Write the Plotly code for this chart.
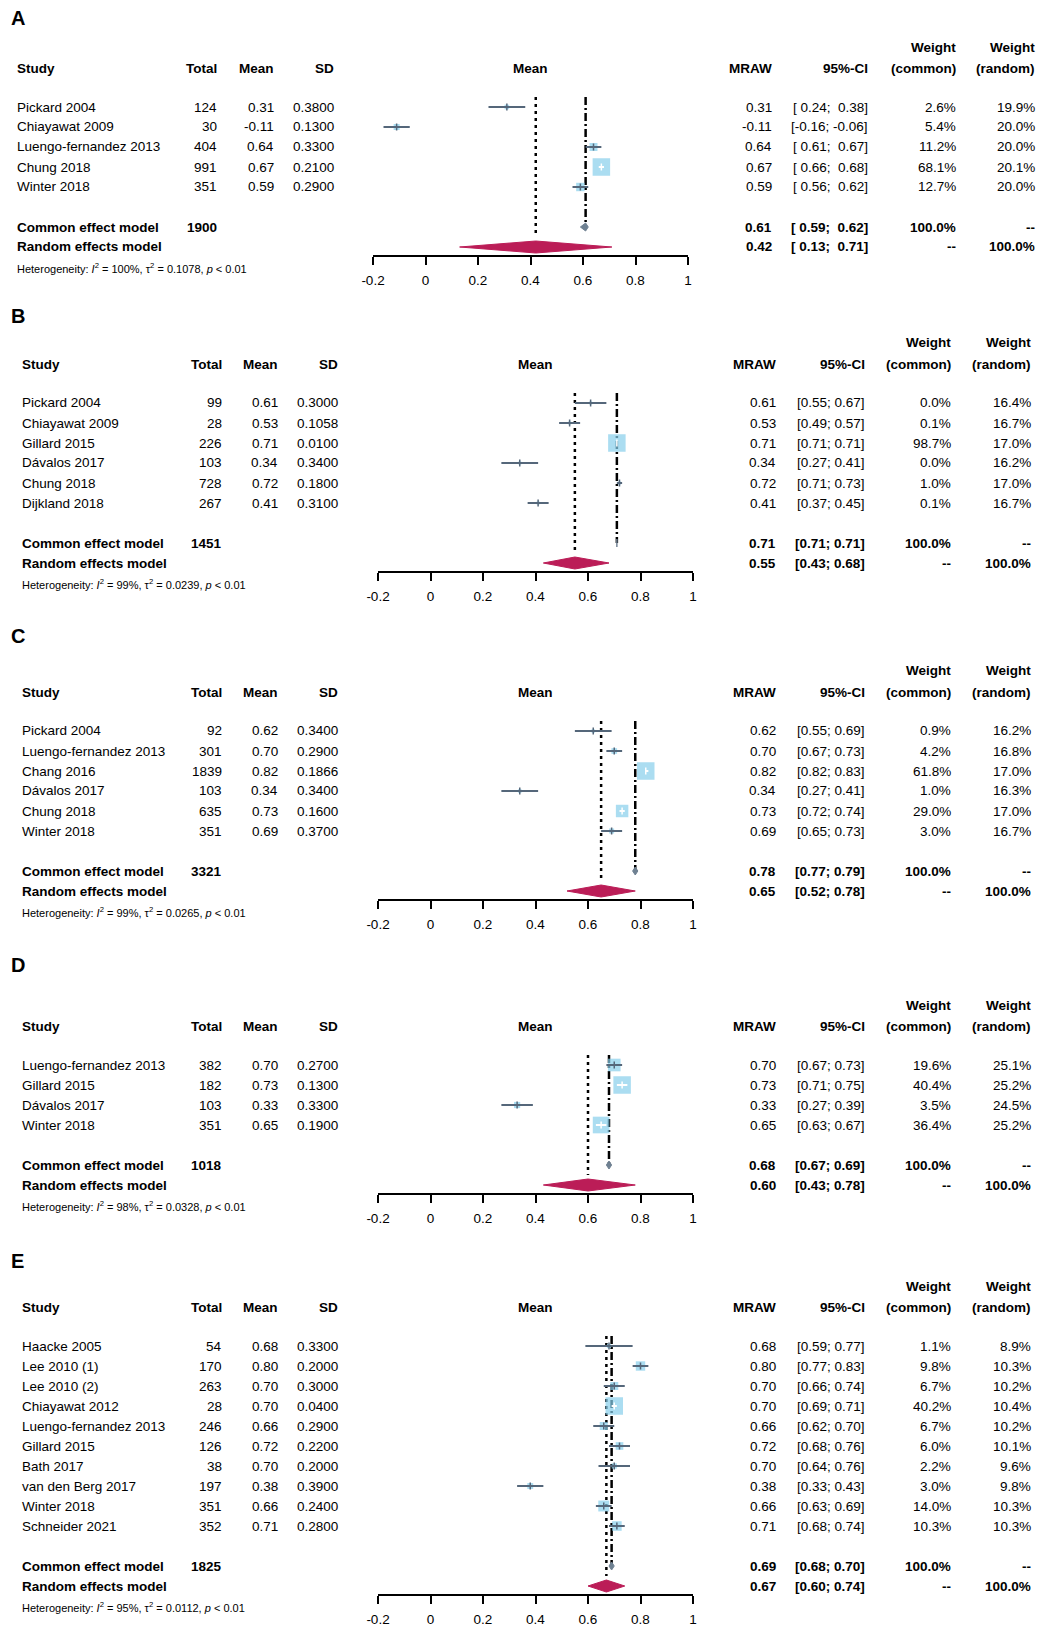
import numpy as np
import plotly.graph_objects as go

FONT = "Liberation Sans, Arial, sans-serif"
W, H = 1048, 1637
ROW = 20  # px per table row

# ---------------- data: panel A ----------------
a_study = ["Pickard 2004", "Chiayawat 2009", "Luengo-fernandez 2013", "Chung 2018", "Winter 2018"]
a_total = [124, 30, 404, 991, 351]
a_mean = [0.31, -0.11, 0.64, 0.67, 0.59]
a_sd = [0.3800, 0.1300, 0.3300, 0.2100, 0.2900]
a_lo = [0.24, -0.16, 0.61, 0.66, 0.56]
a_hi = [0.38, -0.06, 0.67, 0.68, 0.62]
a_wc = [2.6, 5.4, 11.2, 68.1, 12.7]
a_wr = [19.9, 20.0, 20.0, 20.1, 20.0]
a_common = [0.61, 0.59, 0.62]   # est, lo, hi
a_random = [0.42, 0.13, 0.71]
a_n_total = 1900
a_het = ["100%", "0.1078"]

# ---------------- data: panel B ----------------
b_study = ["Pickard 2004", "Chiayawat 2009", "Gillard 2015", "Dávalos 2017", "Chung 2018", "Dijkland 2018"]
b_total = [99, 28, 226, 103, 728, 267]
b_mean = [0.61, 0.53, 0.71, 0.34, 0.72, 0.41]
b_sd = [0.3000, 0.1058, 0.0100, 0.3400, 0.1800, 0.3100]
b_lo = [0.55, 0.49, 0.71, 0.27, 0.71, 0.37]
b_hi = [0.67, 0.57, 0.71, 0.41, 0.73, 0.45]
b_wc = [0.0, 0.1, 98.7, 0.0, 1.0, 0.1]
b_wr = [16.4, 16.7, 17.0, 16.2, 17.0, 16.7]
b_common = [0.71, 0.71, 0.71]
b_random = [0.55, 0.43, 0.68]
b_n_total = 1451
b_het = ["99%", "0.0239"]

# ---------------- data: panel C ----------------
c_study = ["Pickard 2004", "Luengo-fernandez 2013", "Chang 2016", "Dávalos 2017", "Chung 2018", "Winter 2018"]
c_total = [92, 301, 1839, 103, 635, 351]
c_mean = [0.62, 0.70, 0.82, 0.34, 0.73, 0.69]
c_sd = [0.3400, 0.2900, 0.1866, 0.3400, 0.1600, 0.3700]
c_lo = [0.55, 0.67, 0.82, 0.27, 0.72, 0.65]
c_hi = [0.69, 0.73, 0.83, 0.41, 0.74, 0.73]
c_wc = [0.9, 4.2, 61.8, 1.0, 29.0, 3.0]
c_wr = [16.2, 16.8, 17.0, 16.3, 17.0, 16.7]
c_common = [0.78, 0.77, 0.79]
c_random = [0.65, 0.52, 0.78]
c_n_total = 3321
c_het = ["99%", "0.0265"]

# ---------------- data: panel D ----------------
d_study = ["Luengo-fernandez 2013", "Gillard 2015", "Dávalos 2017", "Winter 2018"]
d_total = [382, 182, 103, 351]
d_mean = [0.70, 0.73, 0.33, 0.65]
d_sd = [0.2700, 0.1300, 0.3300, 0.1900]
d_lo = [0.67, 0.71, 0.27, 0.63]
d_hi = [0.73, 0.75, 0.39, 0.67]
d_wc = [19.6, 40.4, 3.5, 36.4]
d_wr = [25.1, 25.2, 24.5, 25.2]
d_common = [0.68, 0.67, 0.69]
d_random = [0.60, 0.43, 0.78]
d_n_total = 1018
d_het = ["98%", "0.0328"]

# ---------------- data: panel E ----------------
e_study = ["Haacke 2005", "Lee 2010 (1)", "Lee 2010 (2)", "Chiayawat 2012", "Luengo-fernandez 2013",
           "Gillard 2015", "Bath 2017", "van den Berg 2017", "Winter 2018", "Schneider 2021"]
e_total = [54, 170, 263, 28, 246, 126, 38, 197, 351, 352]
e_mean = [0.68, 0.80, 0.70, 0.70, 0.66, 0.72, 0.70, 0.38, 0.66, 0.71]
e_sd = [0.3300, 0.2000, 0.3000, 0.0400, 0.2900, 0.2200, 0.2000, 0.3900, 0.2400, 0.2800]
e_lo = [0.59, 0.77, 0.66, 0.69, 0.62, 0.68, 0.64, 0.33, 0.63, 0.68]
e_hi = [0.77, 0.83, 0.74, 0.71, 0.70, 0.76, 0.76, 0.43, 0.69, 0.74]
e_wc = [1.1, 9.8, 6.7, 40.2, 6.7, 6.0, 2.2, 3.0, 14.0, 10.3]
e_wr = [8.9, 10.3, 10.2, 10.4, 10.2, 10.1, 9.6, 9.8, 10.3, 10.3]
e_common = [0.69, 0.68, 0.70]
e_random = [0.67, 0.60, 0.74]
e_n_total = 1825
e_het = ["95%", "0.0112"]

tick_vals = [-0.2, 0, 0.2, 0.4, 0.6, 0.8, 1]
tick_text = ["-0.2", "0", "0.2", "0.4", "0.6", "0.8", "1"]

panels = [
    dict(label="A", study=a_study, total=a_total, mean=a_mean, sd=a_sd, lo=a_lo, hi=a_hi,
         wc=a_wc, wr=a_wr, common=a_common, random=a_random, ntot=a_n_total, het=a_het),
    dict(label="B", study=b_study, total=b_total, mean=b_mean, sd=b_sd, lo=b_lo, hi=b_hi,
         wc=b_wc, wr=b_wr, common=b_common, random=b_random, ntot=b_n_total, het=b_het),
    dict(label="C", study=c_study, total=c_total, mean=c_mean, sd=c_sd, lo=c_lo, hi=c_hi,
         wc=c_wc, wr=c_wr, common=c_common, random=c_random, ntot=c_n_total, het=c_het),
    dict(label="D", study=d_study, total=d_total, mean=d_mean, sd=d_sd, lo=d_lo, hi=d_hi,
         wc=d_wc, wr=d_wr, common=d_common, random=d_random, ntot=d_n_total, het=d_het),
    dict(label="E", study=e_study, total=e_total, mean=e_mean, sd=e_sd, lo=e_lo, hi=e_hi,
         wc=e_wc, wr=e_wr, common=e_common, random=e_random, ntot=e_n_total, het=e_het),
]

# layout (pixels): first study row, panel letter, column anchors
first_px = [107, 403, 731, 1065, 1346]
label_px = [18, 316, 636, 965, 1261]
cols_a = dict(study=17, total=217, mean=274, sd=334, mraw=772, ci=868, wc=956, wr=1035, x0=373, x1=688)
cols_b = dict(study=22, total=222, mean=278, sd=338, mraw=776, ci=865, wc=951, wr=1031, x0=378, x1=693)
panel_cols = [cols_a, cols_b, cols_b, cols_b, cols_b]

SQ_COL = "#87ceeb"
CI_COL = "#55677a"
COMMON_COL = "#6f8192"
RANDOM_COL = "#bb1d57"

fig = go.Figure()
annotations = []


def ci_strings(lo, hi):
    vals = [f"{v:.2f}" for v in lo + hi]
    w = max(len(v) for v in vals)
    return ["[" + f"{l:.2f}".rjust(w) + "; " + f"{h:.2f}".rjust(w) + "]" for l, h in zip(lo, hi)]


def nb(s):
    return s.replace(" ", "\u00a0")


for k, p in enumerate(panels, start=1):
    c = panel_cols[k - 1]
    n = len(p["study"])
    first = first_px[k - 1]
    xa = "x" if k == 1 else f"x{k}"
    ya = "y" if k == 1 else f"y{k}"
    rows = list(range(n))
    r_common, r_random = n + 1, n + 2

    top_px = first - 4 * ROW
    bot_px = first + (n + 2) * ROW + 8
    fig.update_layout({
        ("xaxis" if k == 1 else f"xaxis{k}"): dict(
            domain=[c["x0"] / W, c["x1"] / W], range=[-0.2, 1], anchor=ya,
            tickvals=tick_vals, ticktext=tick_text, ticks="outside", ticklen=8, tickwidth=2,
            tickcolor="black", showline=True, linewidth=2, linecolor="black",
            showgrid=False, zeroline=False, ticklabelstandoff=4, automargin=False,
            tickfont=dict(family=FONT, size=13.5, color="black"), fixedrange=True),
        ("yaxis" if k == 1 else f"yaxis{k}"): dict(
            domain=[1 - bot_px / H, 1 - top_px / H],
            range=[(bot_px - first) / ROW, (top_px - first) / ROW], anchor=xa,
            visible=False, fixedrange=True, automargin=False),
    })

    ce, clo, chi = p["common"]
    re_, rlo, rhi = p["random"]

    # reference lines
    fig.add_trace(go.Scatter(x=[re_, re_], y=[-0.5, r_random - 0.5], mode="lines", xaxis=xa, yaxis=ya,
                             line=dict(color="black", width=2.5, dash="3px,4px")))
    fig.add_trace(go.Scatter(x=[ce, ce], y=[-0.5, r_common], mode="lines", xaxis=xa, yaxis=ya,
                             line=dict(color="black", width=2.5, dash="8px,3px,2px,3px")))

    # squares, sized by common-effect weight
    wmax = max(p["wc"])
    sides = [max(3, 16 * np.sqrt(w / wmax) + 1.5) for w in p["wc"]]
    fig.add_trace(go.Scatter(x=p["mean"], y=rows, mode="markers", xaxis=xa, yaxis=ya,
                             marker=dict(symbol="square", size=sides, color=SQ_COL, line=dict(width=0))))

    # CI lines: white when completely inside the square
    px_unit = (c["x1"] - c["x0"]) / 1.2
    inside = [(h - l) * px_unit <= s for l, h, s in zip(p["lo"], p["hi"], sides)]
    for flag, col in [(False, CI_COL), (True, "white")]:
        xs, ys = [], []
        for i in rows:
            if inside[i] == flag:
                xs += [p["lo"][i], p["hi"][i], None]
                ys += [i, i, None]
        if xs:
            fig.add_trace(go.Scatter(x=xs, y=ys, mode="lines", xaxis=xa, yaxis=ya,
                                     line=dict(color=col, width=2)))
    fig.add_trace(go.Scatter(x=p["mean"], y=rows, mode="markers", xaxis=xa, yaxis=ya,
                             marker=dict(symbol="line-ns", size=5,
                                         line=dict(width=1.5, color=["white" if f else CI_COL for f in inside]))))

    # diamonds
    fig.add_trace(go.Scatter(x=[clo, ce, chi, ce, clo], y=[r_common, r_common - 0.2, r_common, r_common + 0.2, r_common],
                             mode="lines", fill="toself", fillcolor=COMMON_COL, xaxis=xa, yaxis=ya,
                             line=dict(color=COMMON_COL, width=1)))
    fig.add_trace(go.Scatter(x=[rlo, re_, rhi, re_, rlo], y=[r_random, r_random - 0.3, r_random, r_random + 0.3, r_random],
                             mode="lines", fill="toself", fillcolor=RANDOM_COL, xaxis=xa, yaxis=ya,
                             line=dict(color=RANDOM_COL, width=1)))

    # ---- text table (paper coordinates, row grid of the panel) ----
    def txt(xpx, row, text, anchor="right", size=13.5, bold=False):
        annotations.append(dict(
            x=xpx / W, xref="paper", y=1 - (first + row * ROW) / H, yref="paper", showarrow=False,
            text=f"<b>{text}</b>" if bold else text, xanchor=anchor, yanchor="middle",
            borderpad=0, xshift={"right": 1, "left": -1}.get(anchor, 0),
            font=dict(family=FONT, size=size, color="black")))

    txt(11, (label_px[k - 1] - first) / ROW, p["label"], anchor="left", size=20, bold=True)
    hdr = -1.95
    txt(c["study"], hdr, "Study", anchor="left", bold=True)
    txt(c["total"], hdr, "Total", bold=True)
    txt(c["mean"], hdr, "Mean", bold=True)
    txt(c["sd"], hdr, "SD", bold=True)
    txt((c["x0"] + c["x1"]) / 2, hdr, "Mean", anchor="center", bold=True)
    txt(c["mraw"], hdr, "MRAW", bold=True)
    txt(c["ci"], hdr, "95%-CI", bold=True)
    txt(c["wc"], hdr - 1.05, "Weight", bold=True)
    txt(c["wc"], hdr, "(common)", bold=True)
    txt(c["wr"], hdr - 1.05, "Weight", bold=True)
    txt(c["wr"], hdr, "(random)", bold=True)

    cis = ci_strings(p["lo"] + [clo, rlo], p["hi"] + [chi, rhi])
    for i in rows:
        txt(c["study"], i, p["study"][i], anchor="left")
        txt(c["total"], i, str(p["total"][i]))
        txt(c["mean"], i, f"{p['mean'][i]:.2f}")
        txt(c["sd"], i, f"{p['sd'][i]:.4f}")
        txt(c["mraw"], i, f"{p['mean'][i]:.2f}")
        txt(c["ci"], i, nb(cis[i]))
        txt(c["wc"], i, f"{p['wc'][i]:.1f}%")
        txt(c["wr"], i, f"{p['wr'][i]:.1f}%")

    txt(c["study"], r_common, "Common effect model", anchor="left", bold=True)
    txt(c["total"], r_common, str(p["ntot"]), bold=True)
    txt(c["mraw"], r_common, f"{ce:.2f}", bold=True)
    txt(c["ci"], r_common, nb(cis[n]), bold=True)
    txt(c["wc"], r_common, "100.0%", bold=True)
    txt(c["wr"], r_common, "--", bold=True)

    txt(c["study"], r_random, "Random effects model", anchor="left", bold=True)
    txt(c["mraw"], r_random, f"{re_:.2f}", bold=True)
    txt(c["ci"], r_random, nb(cis[n + 1]), bold=True)
    txt(c["wc"], r_random, "--", bold=True)
    txt(c["wr"], r_random, "100.0%", bold=True)

    i2, tau2 = p["het"]
    txt(c["study"], n + 3.05,
        f"Heterogeneity: <i>I</i><sup>2</sup> = {i2}, τ<sup>2</sup> = {tau2}, <i>p</i> &lt; 0.01",
        anchor="left", size=11)

fig.update_layout(
    width=W, height=H,
    margin=dict(l=0, r=0, t=0, b=0, autoexpand=False),
    paper_bgcolor="white", plot_bgcolor="white",
    showlegend=False,
    annotations=annotations,
    font=dict(family=FONT, color="black"),
)

fig.write_html("out.html", config={"displayModeBar": False},
               post_script="document.body.style.margin='0px';")
